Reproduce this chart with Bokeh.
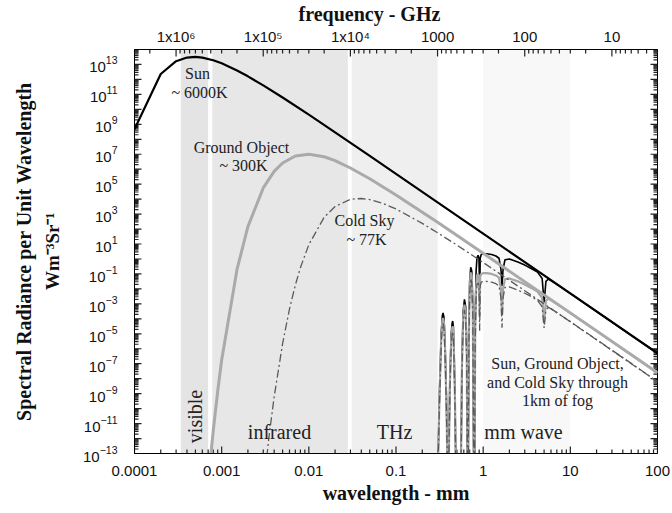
import math
from bokeh.plotting import figure
from bokeh.models import LogAxis, FixedTicker, Label, BoxAnnotation, ColumnDataSource, Title
from bokeh.embed import file_html
from bokeh.resources import INLINE

# ---------------- data (wavelength in mm, spectral radiance in W m^-3 sr^-1) ----------------
SUN_WL = [1e-4, 2e-4, 3e-4, 4e-4, 5e-4, 6e-4, 8e-4, 1e-3, 1.5e-3, 2e-3, 3e-3, 5e-3,
          1e-2, 2e-2, 5e-2, 0.1, 0.3, 1.0, 10.0, 100.0]
SUN_RAD = [4.6e8, 2.3e12, 1.65e13, 2.9e13, 3.2e13, 2.87e13, 1.91e13, 1.19e13, 3.97e12, 1.61e12,
           4.0e11, 6.2e10, 4.4e9, 2.9e8, 7.8e6, 4.9e5, 6.1e3, 49.6, 5.0e-3, 5.0e-7]

GROUND_WL = [7e-4, 8e-4, 9e-4, 1e-3, 1.5e-3, 2e-3, 3e-3, 4e-3, 5e-3, 7e-3, 1e-2, 1.5e-2,
             2e-2, 3e-2, 5e-2, 0.1, 0.3, 1.0, 10.0, 100.0]
GROUND_RAD = [1.3e-15, 3.3e-12, 1.4e-9, 1.8e-7, 0.20, 145.0, 5.6e4, 7.2e5, 2.6e6, 7.6e6, 9.9e6,
              6.8e6, 3.7e6, 1.2e6, 2.3e5, 1.9e4, 280.0, 2.4, 2.5e-4, 2.5e-8]

SKY_WL = [3e-3, 3.5e-3, 4e-3, 5e-3, 6e-3, 7e-3, 8e-3, 1e-2, 1.5e-2, 2e-2, 3e-2, 4e-2, 5e-2,
          7e-2, 0.1, 0.2, 0.3, 0.5, 1.0, 3.0, 10.0, 100.0]
SKY_RAD = [4.4e-16, 1.5e-12, 6.0e-10, 2.2e-6, 4.6e-4, 1.8e-2, 0.26, 9.1, 620.0, 3.2e3, 9.8e3,
           1.1e4, 9.3e3, 5.3e3, 2.2e3, 240.0, 56.0, 8.5, 0.58, 7.6e-3, 6.3e-5, 6.3e-9]

# the three sources seen through 1 km of fog
FOG_WL = [0.300, 0.315, 0.330, 0.340, 0.347, 0.355, 0.365, 0.378, 0.392,
          0.400, 0.415, 0.430, 0.440, 0.447, 0.455, 0.463, 0.475, 0.488,
          0.555, 0.570, 0.590, 0.610, 0.630, 0.648, 0.662,
          0.672, 0.685, 0.700, 0.720, 0.740, 0.760, 0.782,
          0.795, 0.810, 0.830, 0.850, 0.875, 0.895, 0.912, 0.925, 0.950,
          1.00, 1.10, 1.25, 1.40, 1.52, 1.60, 1.645, 1.69, 1.78, 2.0, 2.5, 3.0, 3.6, 4.2,
          4.75, 5.0, 5.25, 5.6, 6.5, 8.0, 10.0, 20.0, 50.0, 100.0]
SUN_FOG_RAD = [1e-15, 1e-9, 1e-5, 1.6e-4, 2.5e-4, 1.26e-4, 3.2e-6, 1e-9, 1e-15,
               1e-15, 1e-8, 1e-5, 5.0e-5, 7.1e-5, 3.2e-5, 1e-6, 1e-9, 1e-15,
               1e-15, 1e-7, 3.2e-4, 2.0e-3, 6.3e-4, 1e-6, 1e-15,
               1e-15, 1e-5, 3.2e-2, 0.28, 0.16, 1e-3, 1e-15,
               1e-15, 1e-4, 0.16, 1.26, 1.78, 1.12, 3.2e-3, 1.12, 2.0,
               2.24, 2.24, 2.0, 1.58, 1.12, 0.2, 0.016, 0.2, 0.89, 1.0, 0.63, 0.39, 0.224, 0.132,
               0.05, 1.26e-3, 0.032, 0.0457, 0.0263, 0.0117, 4.9e-3, 3.1e-4, 7.9e-6, 5.0e-7]
GROUND_FOG_RAD = [1e-15, 4.0e-10, 4.0e-6, 7.1e-5, 1.12e-4, 5.6e-5, 1.26e-6, 4.0e-10, 1e-15,
                  1e-15, 4.0e-9, 4.0e-6, 2.24e-5, 3.2e-5, 1.41e-5, 4.0e-7, 4.0e-10, 1e-15,
                  1e-15, 4.0e-8, 1.26e-4, 8.9e-4, 2.5e-4, 4.0e-7, 1e-15,
                  1e-15, 4.0e-6, 1.26e-2, 0.126, 0.071, 4.0e-4, 1e-15,
                  1e-15, 1e-5, 1.26e-2, 0.079, 0.1, 0.063, 1.6e-4, 0.063, 0.1,
                  0.112, 0.112, 0.1, 0.079, 0.056, 0.01, 2.0e-4, 0.01, 0.045, 0.05, 0.032, 0.0195,
                  0.0112, 6.6e-3,
                  2.5e-3, 6.3e-5, 1.6e-3, 2.3e-3, 1.32e-3, 5.9e-4, 2.45e-4, 1.55e-5, 4.0e-7, 2.45e-8]
SKY_FOG_RAD = [1e-15, 1.6e-10, 1.6e-6, 3.2e-5, 5.0e-5, 2.5e-5, 5.0e-7, 1.6e-10, 1e-15,
               1e-15, 1.6e-9, 1.6e-6, 1e-5, 1.41e-5, 6.3e-6, 1.6e-7, 1.6e-10, 1e-15,
               1e-15, 1.6e-8, 5.0e-5, 4.0e-4, 1e-4, 1.6e-7, 1e-15,
               1e-15, 1.6e-6, 5.0e-3, 0.05, 0.028, 1.6e-4, 1e-15,
               1e-15, 2.5e-6, 3.2e-3, 0.02, 0.025, 0.016, 1.6e-5, 0.016, 0.028,
               0.032, 0.032, 0.028, 0.0224, 0.016, 2.5e-3, 2.5e-5, 2.5e-3, 0.0126, 0.0135, 8.3e-3,
               5.1e-3, 2.95e-3, 1.74e-3,
               6.3e-4, 2.5e-5, 4.0e-4, 6.0e-4, 3.5e-4, 1.55e-4, 6.5e-5, 4.1e-6, 1.05e-7, 6.3e-9]

# spectral bands (wavelength in mm)
BAND_NAMES = ["visible", "infrared", "THz", "mm wave"]
BAND_LO = [0.00034, 0.00078, 0.031, 1.0]
BAND_HI = [0.0007, 0.028, 0.30, 10.0]
BAND_COLORS = ["#e4e4e4", "#e7e7e7", "#efefef", "#f8f8f8"]

# axis ticks
BOTTOM_TICKS = [0.0001, 0.001, 0.01, 0.1, 1.0, 10.0, 100.0]
BOTTOM_LABELS = ["0.0001", "0.001", "0.01", "0.1", "1", "10", "100"]
TOP_FREQ_GHZ = [1e6, 1e5, 1e4, 1000.0, 100.0, 10.0]
TOP_LABELS = ["1x10\u2076", "1x10\u2075", "1x10\u2074", "1000", "100", "10"]
C_MM_GHZ = 299.792458   # wavelength[mm] = C / frequency[GHz]
Y_EXPONENTS = list(range(-13, 15))

# ---------------- figure ----------------
X_MIN, X_MAX, Y_MIN, Y_MAX = 1e-4, 100.0, 1e-13, 1e14
FRAME_L, FRAME_T, FRAME_R, FRAME_B = 134, 47, 657, 453
W, H = 672, 513
PX_DEC_X = (FRAME_R - FRAME_L) / math.log10(X_MAX / X_MIN)
PX_DEC_Y = (FRAME_B - FRAME_T) / math.log10(Y_MAX / Y_MIN)

p = figure(width=W, height=H, x_axis_type="log", y_axis_type="log",
           x_range=(X_MIN, X_MAX), y_range=(Y_MIN, Y_MAX), title=None,
           output_backend="svg", toolbar_location=None,
           min_border_left=FRAME_L, min_border_right=W - FRAME_R,
           min_border_top=FRAME_T, min_border_bottom=H - FRAME_B,
           background_fill_color="white", border_fill_color="white")
p.grid.visible = False
p.outline_line_color = "black"
p.outline_line_width = 1


def style_axis(ax):
    ax.major_tick_in = 0
    ax.major_tick_out = 0
    ax.minor_tick_in = 0
    ax.minor_tick_out = 0
    ax.axis_line_color = "black"
    ax.major_tick_line_color = None
    ax.minor_tick_line_color = None
    ax.major_label_text_font = "Liberation Sans"
    ax.major_label_text_font_size = "15px"
    ax.major_label_text_color = "#111111"
    ax.axis_label_text_font = "Liberation Serif"
    ax.axis_label_text_font_style = "bold"
    ax.axis_label_text_color = "#111111"


# bottom axis (wavelength)
bminor = [m * t for t in BOTTOM_TICKS[:-1] for m in range(2, 10)]
xa = p.xaxis[0]
xa.ticker = FixedTicker(ticks=BOTTOM_TICKS, minor_ticks=bminor)
xa.major_label_overrides = dict(zip(BOTTOM_TICKS, BOTTOM_LABELS))
style_axis(xa)
xa.major_label_standoff = 12
xa.axis_label = "wavelength - mm"
xa.axis_label_text_font_size = "20px"
xa.axis_label_standoff = 3

# left axis (radiance)
yticks = [float("1e%d" % e) for e in Y_EXPONENTS]
yminor = [m * t for t in yticks[:-1] for m in range(2, 10)]
ya = p.yaxis[0]
ya.ticker = FixedTicker(ticks=yticks, minor_ticks=yminor)
ya.major_label_overrides = {t: "" for t, e in zip(yticks, Y_EXPONENTS) if e % 2 == 0}
style_axis(ya)
ya.major_label_standoff = 17
ya.axis_label = "Wm\u207b\u00b3Sr\u207b\u00b9"
ya.axis_label_text_font_size = "19px"
ya.axis_label_standoff = 17
p.add_layout(Title(text="Spectral Radiance per Unit Wavelength", align="center",
                   text_font="Liberation Serif", text_font_size="20px",
                   text_font_style="bold", text_color="#111111", standoff=10), "left")

# top axis (frequency in GHz)
top_ticks = [C_MM_GHZ / f for f in TOP_FREQ_GHZ]
top_minor = [C_MM_GHZ / (m * 10.0 ** k) for k in range(0, 7) for m in range(2, 10)
             if X_MIN <= C_MM_GHZ / (m * 10.0 ** k) <= X_MAX]
ta = LogAxis(ticker=FixedTicker(ticks=top_ticks, minor_ticks=top_minor),
             major_label_overrides=dict(zip(top_ticks, TOP_LABELS)))
style_axis(ta)
ta.major_label_standoff = 5
p.add_layout(ta, "above")
p.add_layout(Title(text="frequency - GHz", align="left", offset=164,
                   text_font="Liberation Serif", text_font_size="20px",
                   text_font_style="bold", text_color="#111111", standoff=0), "above")

# spectral bands
for lo, hi, col in zip(BAND_LO, BAND_HI, BAND_COLORS):
    p.add_layout(BoxAnnotation(left=lo, right=hi, fill_color=col, fill_alpha=1.0,
                               line_color=None, level="underlay"))

# inward tick marks on all four sides of the frame
MAJ, MIN = 7.0, 4.0
kx = lambda L: 10 ** (L / PX_DEC_X)
ky = lambda L: 10 ** (L / PX_DEC_Y)
tick_src = dict(x0=[], y0=[], x1=[], y1=[])


def add_ticks(x0, y0, x1, y1):
    tick_src["x0"].append(x0)
    tick_src["y0"].append(y0)
    tick_src["x1"].append(x1)
    tick_src["y1"].append(y1)


for ticks, L in ((BOTTOM_TICKS, MAJ), (bminor, MIN)):
    for t in ticks:
        add_ticks(t, Y_MIN, t, Y_MIN * ky(L))
for ticks, L in ((top_ticks, MAJ), (top_minor, MIN)):
    for t in ticks:
        add_ticks(t, Y_MAX, t, Y_MAX / ky(L))
for ticks, L in ((yticks, MAJ), (yminor, MIN)):
    for t in ticks:
        add_ticks(X_MIN, t, X_MIN * kx(L), t)
        add_ticks(X_MAX, t, X_MAX / kx(L), t)
p.segment(x0="x0", y0="y0", x1="x1", y1="y1", source=ColumnDataSource(tick_src),
          line_color="#222222", line_width=1.2)

# curves through fog
fog = ColumnDataSource(dict(wl=FOG_WL, sun=SUN_FOG_RAD, ground=GROUND_FOG_RAD, sky=SKY_FOG_RAD))
p.line("wl", "sun", source=fog, line_color="black", line_width=1.6)
p.line("wl", "ground", source=fog, line_color="#a6a6a6", line_width=2.2)
p.line("wl", "sky", source=fog, line_color="#5a5a5a", line_width=1.3, line_dash="8 3 2 3")

# free-space curves
p.line(GROUND_WL, GROUND_RAD, line_color="#aaaaaa", line_width=3)
p.line(SKY_WL, SKY_RAD, line_color="#5a5a5a", line_width=1.3, line_dash="8 3 2 3")
p.line(SUN_WL, SUN_RAD, line_color="black", line_width=2.2)


def add_text(txt, px, py, size, angle=0.0):
    p.add_layout(Label(x=px - FRAME_L, y=FRAME_B - py, x_units="screen", y_units="screen",
                       text=txt, text_font="Liberation Serif", text_font_size="%dpx" % size,
                       text_align="center", text_baseline="middle", angle=angle,
                       text_color="#222222"))


# annotations inside the frame
add_text("Sun", 197, 73, 16)
add_text("~ 6000K", 199, 92, 16)
add_text("Ground Object", 241, 147, 16)
add_text("~ 300K", 243, 165, 16)
add_text("Cold Sky", 364, 220, 16)
add_text("~ 77K", 366, 239, 16)
add_text("Sun, Ground Object,", 557, 363, 16)
add_text("and Cold Sky through", 557, 382, 16)
add_text("1km of fog", 557, 400, 16)
add_text(BAND_NAMES[0], 194, 416, 20, angle=math.pi / 2)
add_text(BAND_NAMES[1], 279, 431, 20)
add_text(BAND_NAMES[2], 394, 431, 20)
add_text(BAND_NAMES[3], 523, 431, 20)

open("out.html", "w").write(file_html(p, INLINE))
